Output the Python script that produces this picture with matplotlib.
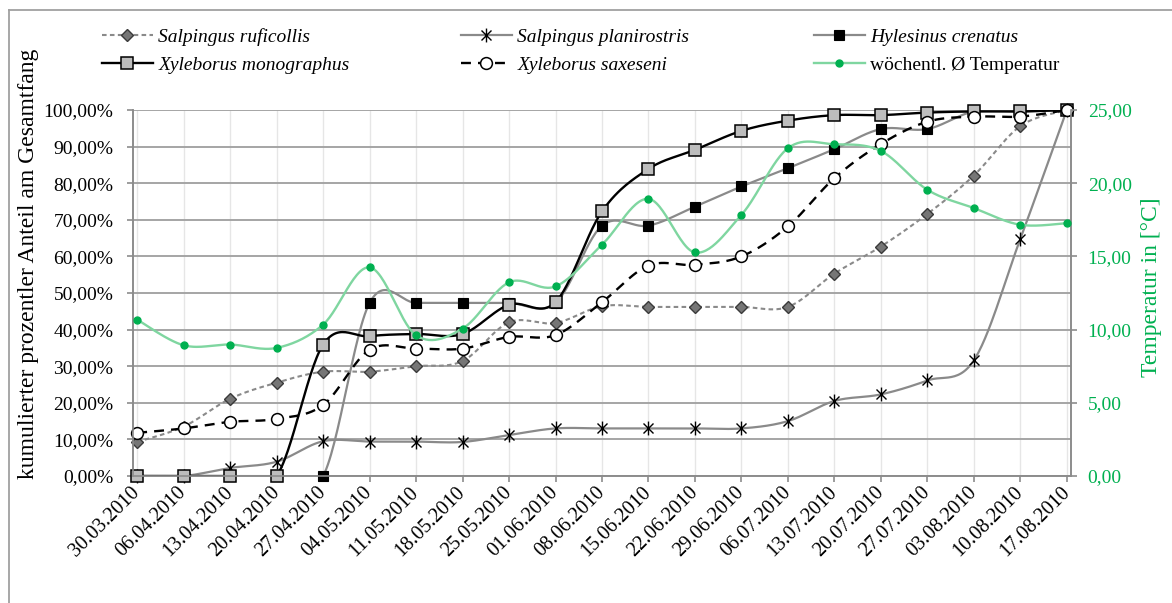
import numpy as np
import matplotlib
matplotlib.use("Agg")
import matplotlib.pyplot as plt
from matplotlib.path import Path
from matplotlib.lines import Line2D
from matplotlib.ticker import FuncFormatter, MultipleLocator

plt.rcParams['font.family'] = ['Liberation Serif', 'DejaVu Serif']

# ---- data -------------------------------------------------------------
dates = ["30.03.2010", "06.04.2010", "13.04.2010", "20.04.2010", "27.04.2010",
         "04.05.2010", "11.05.2010", "18.05.2010", "25.05.2010", "01.06.2010",
         "08.06.2010", "15.06.2010", "22.06.2010", "29.06.2010", "06.07.2010",
         "13.07.2010", "20.07.2010", "27.07.2010", "03.08.2010", "10.08.2010",
         "17.08.2010"]

salpingus_ruficollis = [9.3, 13.5, 21.1, 25.5, 28.5, 28.5, 30.0, 31.4, 42.0, 41.8,
                        46.4, 46.2, 46.2, 46.2, 46.2, 55.3, 62.7, 71.6, 82.1, 95.6, 100.0]
salpingus_planirostris = [0.0, 0.0, 2.2, 3.9, 9.5, 9.4, 9.4, 9.3, 11.2, 13.0,
                          13.0, 13.0, 13.0, 13.0, 15.0, 20.5, 22.3, 26.1, 31.6, 64.8, 100.0]
hylesinus_crenatus = [0.0, 0.0, 0.0, 0.0, 0.0, 47.3, 47.3, 47.3, 47.3, 47.3,
                      68.4, 68.4, 73.6, 79.1, 84.1, 89.3, 94.8, 94.8, 99.6, 99.6, 100.0]
xyleborus_monographus = [0.0, 0.0, 0.0, 0.0, 35.9, 38.2, 38.8, 38.8, 46.8, 47.5,
                         72.3, 83.9, 89.1, 94.3, 97.1, 98.6, 98.6, 99.3, 99.6, 99.6, 100.0]
xyleborus_saxeseni = [11.8, 13.0, 14.8, 15.6, 19.4, 34.5, 34.8, 34.8, 38.0, 38.5,
                      47.5, 57.5, 57.7, 60.0, 68.2, 81.4, 90.7, 96.8, 98.2, 98.2, 100.0]
temperatur = [10.68, 8.93, 8.98, 8.75, 10.34, 14.25, 9.61, 10.07, 13.23, 12.95,
              15.80, 18.93, 15.27, 17.84, 22.39, 22.66, 22.20, 19.55, 18.30, 17.16, 17.27]

# ---- figure geometry (pixels) ----------------------------------------
W, H = 1172, 603
AX_L, AX_R, AX_T, AX_B = 133, 1071, 110, 476
X_MIN, X_MAX = -0.09, 20.09
px_per_cat = (AX_R - AX_L) / (X_MAX - X_MIN)
px_per_pct = (AX_B - AX_T) / 100.0
px_per_deg = (AX_B - AX_T) / 25.0


def smooth(y, sy, n=30):
    """Bezier smoothing through every point (tangent = neighbour chord / 6),
    computed in screen proportions."""
    x = np.arange(len(y), dtype=float) * px_per_cat
    P = np.column_stack([x, np.asarray(y, float) * sy])
    pts = [P[0]]
    t = np.linspace(0, 1, n)[1:, None]
    for i in range(len(P) - 1):
        p0 = P[i - 1] if i > 0 else P[i]
        p1, p2 = P[i], P[i + 1]
        p3 = P[i + 2] if i + 2 < len(P) else P[i + 1]
        c1 = p1 + (p2 - p0) / 6.0
        c2 = p2 - (p3 - p1) / 6.0
        seg = (1 - t) ** 3 * p1 + 3 * (1 - t) ** 2 * t * c1 + 3 * (1 - t) * t ** 2 * c2 + t ** 3 * p2
        pts.extend(seg)
    pts = np.array(pts)
    return pts[:, 0] / px_per_cat, pts[:, 1] / sy


star = Path([(0, -1), (0, 1), (-0.72, -0.72), (0.72, 0.72), (-0.72, 0.72), (0.72, -0.72)],
            [Path.MOVETO, Path.LINETO, Path.MOVETO, Path.LINETO, Path.MOVETO, Path.LINETO])

fig = plt.figure(figsize=(W / 100, H / 100), dpi=100)
ax = fig.add_axes([AX_L / W, 1 - AX_B / H, (AX_R - AX_L) / W, (AX_B - AX_T) / H])
ax2 = ax.twinx()

GRID = '#a5a5a5'
AXC = '#8c8c8c'
GREEN = '#00b050'
x = np.arange(len(dates))

series = [
    (salpingus_ruficollis, 'Salpingus ruficollis',
     dict(color='#8a8a8a', lw=1.5, ls=(0, (2.2, 1.6))),
     dict(marker='D', ms=6.5, mfc='#767676', mec='#3a3a3a', mew=1.0)),
    (salpingus_planirostris, 'Salpingus planirostris',
     dict(color='#8a8a8a', lw=1.6, ls='-'),
     dict(marker=star, ms=10, mfc='none', mec='black', mew=1.0)),
    (hylesinus_crenatus, 'Hylesinus crenatus',
     dict(color='#8a8a8a', lw=1.6, ls='-'),
     dict(marker='s', ms=7, mfc='black', mec='black', mew=0.8)),
    (xyleborus_monographus, 'Xyleborus monographus',
     dict(color='black', lw=1.7, ls='-'),
     dict(marker='s', ms=8.3, mfc='#bdbdbd', mec='black', mew=1.1)),
    (xyleborus_saxeseni, 'Xyleborus saxeseni',
     dict(color='black', lw=1.7, ls=(0, (4.2, 3.0))),
     dict(marker='o', ms=8.5, mfc='white', mec='black', mew=1.1)),
]

handles = {}
for k, (vals, label, lstyle, mstyle) in enumerate(series):
    sx, sy = smooth(vals, px_per_pct)
    ax.plot(sx, sy, zorder=3 + k, solid_capstyle='round', **lstyle)
    ax.plot(x, vals, ls='none', zorder=3 + k, clip_on=False, **mstyle)
    handles[label] = Line2D([], [], **lstyle, **mstyle)

tx, ty = smooth(temperatur, px_per_deg)
ax2.plot(tx, ty, color='#7fd6a0', lw=1.7, zorder=10)
ax2.plot(x, temperatur, ls='none', marker='o', ms=5, mfc=GREEN, mec=GREEN, zorder=11)
handles['wöchentl. Ø Temperatur'] = Line2D([], [], color='#7fd6a0', lw=1.7,
                                          marker='o', ms=5, mfc=GREEN, mec=GREEN)

# ---- axes ---------------------------------------------------------------
ax.set_xlim(X_MIN, X_MAX)
ax.set_ylim(0, 100)
ax2.set_ylim(0, 25)
ax.yaxis.set_major_locator(MultipleLocator(10))
ax2.yaxis.set_major_locator(MultipleLocator(5))
ax.yaxis.set_major_formatter(FuncFormatter(lambda v, p: f"{v:.2f}%".replace('.', ',')))
ax2.yaxis.set_major_formatter(FuncFormatter(lambda v, p: f"{v:.2f}".replace('.', ',')))

ax.set_xticks(x)
ax.set_xticklabels(dates, rotation=45, ha='right', va='center', rotation_mode='anchor',
                   fontsize=14.5)
ax.grid(axis='y', color=GRID, lw=1.4, zorder=0)
ax.grid(axis='x', color='#e6e6e6', lw=1.0, zorder=0)
ax.set_axisbelow(True)

for a in (ax, ax2):
    a.spines['top'].set_visible(False)
    for s in ('left', 'right', 'bottom'):
        a.spines[s].set_color(AXC)
        a.spines[s].set_linewidth(1.2)
ax.tick_params(axis='y', length=4, width=1.2, color=AXC, labelsize=14, pad=10)
ax.tick_params(axis='x', length=4, width=1.2, color=AXC, pad=6)
ax2.tick_params(axis='y', length=4, width=1.2, color=AXC, labelsize=14, pad=8,
                labelcolor=GREEN)

ax.set_ylabel('kumulierter prozentler Anteil am Gesamtfang', fontsize=17)
ax.yaxis.set_label_coords((39 - AX_L) / (AX_R - AX_L), (AX_B - 264) / (AX_B - AX_T))
ax2.set_ylabel('Temperatur in [°C]', fontsize=17, color=GREEN, labelpad=6)
ax2.yaxis.set_label_coords(1 + (1141 - AX_R) / (AX_R - AX_L), (AX_B - 287) / (AX_B - AX_T))

# ---- legend: three columns of two entries -------------------------------
columns = [
    (102, ['Salpingus ruficollis', 'Xyleborus monographus']),
    (461, ['Salpingus planirostris', 'Xyleborus saxeseni']),
    (814, ['Hylesinus crenatus', 'wöchentl. Ø Temperatur']),
]
for cx, labels in columns:
    leg = fig.legend([handles[l] for l in labels], labels,
                     loc='upper left', bbox_to_anchor=(cx / W, 1 - 28 / H),
                     frameon=False, fontsize=14, handlelength=2.6, handletextpad=0.3,
                     labelspacing=0.55, borderpad=0, borderaxespad=0)
    for txt in leg.get_texts():
        if not txt.get_text().startswith('wöchentl'):
            txt.set_fontstyle('italic')

# ---- chart frame --------------------------------------------------------
fig.add_artist(Line2D([8.5 / W, 8.5 / W], [0, 1 - 10 / H], color='#a0a0a0', lw=1.3))
fig.add_artist(Line2D([8.5 / W, 1], [1 - 10 / H, 1 - 10 / H], color='#a0a0a0', lw=1.3))

fig.savefig('out.png', dpi=100)
